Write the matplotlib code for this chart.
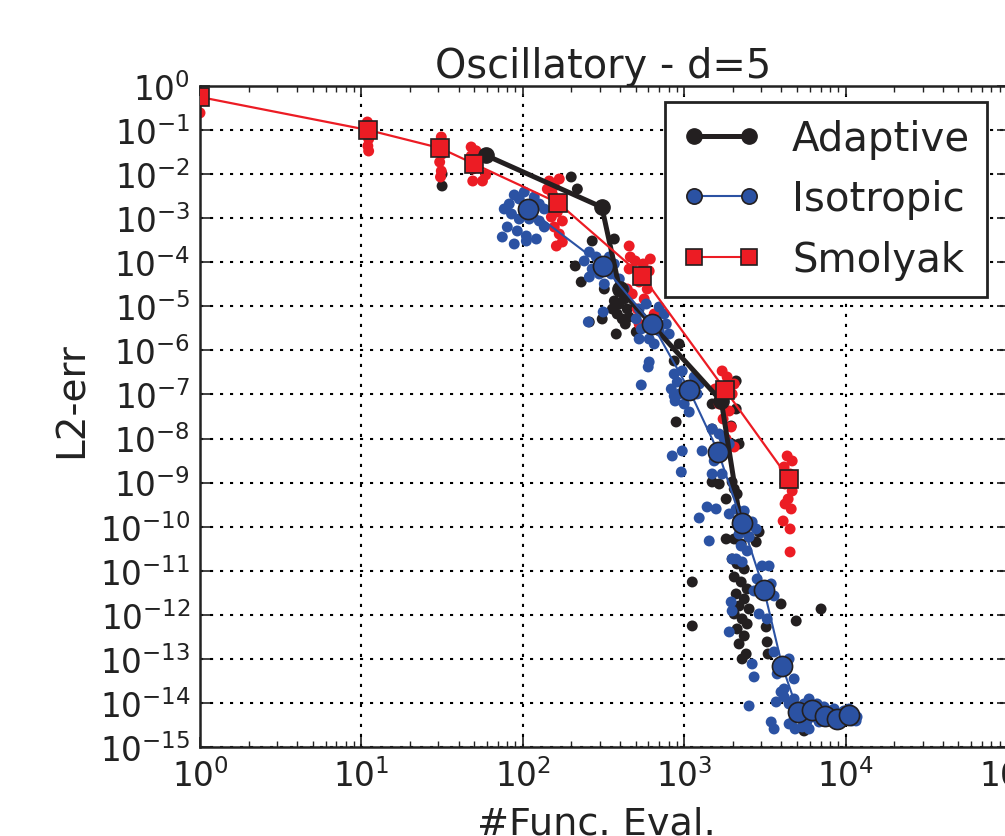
import numpy as np
import matplotlib
matplotlib.use("Agg")
import matplotlib.pyplot as plt
from matplotlib.lines import Line2D
from matplotlib.ticker import LogLocator, NullLocator, LogFormatterMathtext

# ---------------- data (log10 of #evals, log10 of L2 error) ----------------
adaptive_lx = [1.77, 2.49, 2.60, 3.23, 3.347]
adaptive_ly = [-1.57, -2.75, -4.61, -7.15, -9.87]

isotropic_lx = [2.034, 2.498, 2.802, 3.031, 3.211, 3.359, 3.495, 3.607, 3.706, 3.793, 3.873, 3.947, 4.022]
isotropic_ly = [-2.79, -4.08, -5.40, -6.90, -8.305, -9.916, -11.44, -13.16, -14.205, -14.159, -14.295, -14.364, -14.273]

smolyak_lx = [0.0, 1.043, 1.489, 1.70, 2.22, 2.74, 3.254, 3.65]
smolyak_ly = [-0.25, -1.0, -1.41, -1.77, -2.655, -4.31, -6.898, -8.918]

red_pts_lx = [0.0,
              1.037, 1.04, 1.045, 1.04, 1.045, 1.06, 1.03,
              1.495, 1.49, 1.50, 1.485, 1.495, 1.49,
              1.68, 1.68, 1.69, 1.69, 1.75, 1.77, 1.73, 1.71,
              2.164, 2.195, 2.183, 2.226, 2.195, 2.214, 2.245, 2.195, 2.226, 2.245, 2.208, 2.177, 2.152,
              2.659, 2.666, 2.79, 2.659, 2.721, 2.771, 2.678, 2.752, 2.709, 2.814, 2.721, 2.647, 2.783, 2.746, 2.697,
              3.235, 3.266, 3.31, 3.192, 3.297, 3.217, 3.279, 3.241, 3.291, 3.26, 3.31,
              3.638, 3.669, 3.619, 3.656, 3.625, 3.669, 3.644, 3.625, 3.663, 3.613, 3.656, 3.656]
red_pts_ly = [-0.61,
              -0.817, -0.976, -1.203, -1.361, -1.475, -1.09, -0.93,
              -1.157, -1.316, -1.543, -1.725, -1.929, -2.065,
              -1.384, -1.588, -1.883, -2.156, -2.156, -2.02, -1.656, -1.47,
              -2.156, -2.269, -2.45, -2.11, -2.678, -2.859, -3.063, -3.199, -3.359, -3.54, -3.631, -2.972, -2.337,
              -3.631, -3.88, -3.926, -4.152, -4.447, -4.606, -4.72, -4.833, -5.06, -5.174, -5.401, -4.606, -4.198, -4.039, -3.971,
              -6.467, -6.603, -6.762, -6.875, -6.989, -7.216, -7.375, -7.556, -7.738, -8.01, -8.192,
              -8.396, -8.509, -8.645, -8.804, -9.031, -9.19, -9.372, -9.485, -9.598, -9.871, -10.052, -10.574]

black_pts_lx = [1.50, 1.50, 2.30, 2.338,
                2.43, 2.325, 2.362, 2.505, 2.567, 2.579, 2.492, 2.703, 2.412,
                2.567, 2.598, 2.629, 2.647, 2.585, 2.616, 2.659, 2.555, 2.635,
                2.938, 2.95, 2.969,
                3.322, 3.173, 3.291, 3.297, 3.322, 3.34, 3.173,
                3.173, 3.26, 3.297, 3.31, 3.372, 3.464, 3.26, 3.217, 3.328,
                3.31, 3.402, 3.446, 3.353,
                3.297, 3.328, 3.372, 3.31, 3.353, 3.39, 3.322, 3.372, 3.34, 3.402, 3.31, 3.359, 3.39, 3.328,
                3.372, 3.34, 3.384, 3.359, 3.05, 3.05, 3.6, 3.848, 3.694, 3.508, 3.514, 3.52, 3.743]
black_pts_ly = [-1.997, -2.269, -2.065, -2.337,
                -3.517, -4.084, -4.447, -4.606, -3.472, -5.628, -5.287, -5.582, -5.355,
                -4.878, -4.947, -4.833, -5.06, -5.174, -5.287, -5.242, -5.06, -5.401,
                -6.24, -7.624, -5.854,
                -6.694, -7.216, -7.715, -8.124, -7.329, -8.124, -7.783,
                -8.986, -9.372, -8.986, -9.145, -10.052, -10.12, -10.279, -9.031, -9.258,
                -10.279, -10.233, -10.347, -10.392,
                -10.733, -10.846, -10.96, -11.141, -11.255, -11.414, -11.527, -11.641, -11.8, -11.868, -11.981, -12.094, -12.208, -12.321,
                -12.48, -12.661, -12.889, -13.002, -11.255, -12.253, -11.754, -11.868, -12.14, -12.276, -12.616, -12.889, -14.636]

blue_pts_lx = [1.885, 1.916, 1.947, 1.978, 2.009, 2.071, 2.102, 2.133, 1.93, 1.978, 2.04, 2.102, 1.904, 1.966, 2.022, 2.133, 1.947, 2.022, 2.084, 1.873,
               2.412, 2.455, 2.381, 2.536, 2.567, 2.43, 2.474, 2.548, 2.598, 2.412, 2.505, 2.406, 2.498, 2.629,
               2.721, 2.765, 2.845, 2.876, 2.703, 2.734, 2.845, 2.889, 2.783, 2.721, 2.814, 2.907, 2.783, 2.777, 2.734, 2.957, 2.938,
               2.938, 2.988, 3.062, 3.093, 2.92, 2.969, 3.08, 3.0, 3.031, 2.944,
               2.926, 2.988, 2.982, 3.111, 3.173, 3.217, 3.279, 3.248, 3.173, 3.235, 3.142, 3.198, 3.093, 3.155, 3.266, 3.186,
               3.322, 3.372, 3.421, 3.446, 3.34, 3.402, 3.353, 3.39, 3.322, 3.297, 3.359, 3.279,
               3.483, 3.526, 3.433, 3.557, 3.464, 3.514, 3.291, 3.297, 3.279, 3.421, 3.433, 3.402, 3.57, 3.452, 3.539,
               3.557, 3.65, 3.576, 3.681, 3.619, 3.6, 3.619, 3.539, 3.557,
               3.65, 3.681, 3.743, 3.774, 3.824, 3.867, 3.898, 3.929, 3.96, 3.991, 4.022, 4.053, 4.071, 3.681,
               3.712, 3.762, 3.805, 3.836, 3.886, 3.929, 3.972, 4.009, 4.04, 4.065, 3.731, 3.774, 3.65, 3.687]
blue_pts_ly = [-2.791, -2.678, -2.473, -2.564, -2.405, -2.519, -2.678, -2.791, -2.904, -3.018, -3.018, -3.063, -3.199, -3.29, -3.404, -3.199, -3.585, -3.517, -3.472, -3.427,
               -3.767, -3.88, -3.971, -3.88, -4.039, -4.152, -4.266, -4.266, -4.379, -4.334, -4.493, -5.355, -5.128, -4.606,
               -5.06, -4.947, -5.015, -5.174, -5.287, -5.514, -5.559, -5.401, -5.741, -5.741, -5.854, -5.628, -6.263, -6.376, -6.785, -6.717, -7.034,
               -6.535, -6.467, -6.603, -6.762, -6.875, -6.989, -6.989, -7.216, -7.397, -7.148,
               -8.396, -8.282, -8.759, -8.282, -7.783, -7.897, -8.124, -8.01, -8.804, -8.804, -9.553, -9.598, -9.803, -10.324, -8.169, -8.509,
               -9.598, -9.644, -9.893, -10.052, -10.165, -10.233, -10.438, -10.551, -10.733, -10.733, -10.801, -9.712,
               -10.892, -10.892, -11.459, -11.572, -11.981, -12.094, -11.709, -11.913, -12.389, -13.116, -13.41, -14.069, -13.978, -11.187, -11.3,
               -12.843, -13.002, -13.342, -13.455, -13.683, -13.751, -13.864, -14.432, -14.591,
               -14.023, -13.91, -14.023, -13.91, -14.023, -14.091, -14.182, -14.137, -14.25, -14.182, -14.137, -14.25, -14.318, -14.364,
               -14.318, -14.409, -14.318, -14.432, -14.364, -14.432, -14.409, -14.364, -14.409, -14.409, -14.545, -14.591, -14.477, -14.591]

labels = ["Adaptive", "Isotropic", "Smolyak"]
title = "Oscillatory - d=5"
xlabel = "#Func. Eval."
ylabel = "L2-err"

# ---------------- styling ----------------
BLACK = "#231f20"
BLUE = "#2b52a3"
RED = "#ec1c24"
TXT = "#222222"

plt.rcParams["font.family"] = ["DejaVu Sans"]
plt.rcParams["mathtext.default"] = "regular"
plt.rcParams["axes.unicode_minus"] = False

fig = plt.figure(figsize=(10.05, 8.37), dpi=100)
W, H = 1005.0, 837.0
AX_L, AX_R, AX_T, AX_B = 200, 1007, 87, 748
ax = fig.add_axes([AX_L / W, (H - AX_B) / H, (AX_R - AX_L) / W, (AX_B - AX_T) / H])

p = lambda a: np.power(10.0, np.asarray(a))

dot_s = 62
ax.scatter(p(black_pts_lx), p(black_pts_ly), s=dot_s, color=BLACK, edgecolors="none", zorder=2)
ax.scatter(p(red_pts_lx), p(red_pts_ly), s=dot_s, color=RED, edgecolors="none", zorder=2.1)
ax.scatter(p(blue_pts_lx), p(blue_pts_ly), s=dot_s, color=BLUE, edgecolors="none", zorder=2.2)

ax.plot(p(adaptive_lx), p(adaptive_ly), "-o", color=BLACK, lw=3.6, ms=11,
        mfc=BLACK, mec=BLACK, zorder=3)
ax.plot(p(isotropic_lx), p(isotropic_ly), "-o", color=BLUE, lw=1.5, ms=14.5,
        mfc=BLUE, mec=BLACK, mew=1.2, zorder=3.2)
ax.plot(p(smolyak_lx), p(smolyak_ly), "-s", color=RED, lw=1.6, ms=12.5,
        mfc=RED, mec=BLACK, mew=1.2, zorder=3.1)

ax.set_xscale("log")
ax.set_yscale("log")
ax.set_xlim(1, 1e5)
ax.set_ylim(1e-15, 1)

ax.xaxis.set_major_locator(LogLocator(base=10, numticks=10))
ax.xaxis.set_minor_locator(LogLocator(base=10, subs=np.arange(2, 10), numticks=20))
ax.yaxis.set_major_locator(LogLocator(base=10, numticks=20))
ax.yaxis.set_minor_locator(NullLocator())
ax.xaxis.set_major_formatter(LogFormatterMathtext())
ax.yaxis.set_major_formatter(LogFormatterMathtext())

ax.tick_params(which="both", direction="in", top=True, right=True, colors=TXT)
ax.tick_params(which="major", length=7, width=1.2, labelsize=23.5, pad=8)
ax.tick_params(which="minor", length=4, width=1.0)
ax.tick_params(axis="y", which="major", pad=7)

ax.grid(True, which="major", color="black", linestyle=(0, (1.5, 3.3)), linewidth=1.5)
for s in ax.spines.values():
    s.set_linewidth(1.8)
    s.set_color(TXT)

aw, ah = float(AX_R - AX_L), float(AX_B - AX_T)
ax.set_title(title, fontsize=28.7, color=TXT)
ax.set_xlabel(xlabel, fontsize=27.5, color=TXT)
ax.set_ylabel(ylabel, fontsize=28, color=TXT)
ax.xaxis.set_label_coords((596 - AX_L) / aw, (AX_B - 807) / ah)
ax.xaxis.label.set_va("top")
ax.yaxis.set_label_coords((91 - AX_L) / aw, (AX_B - 400) / ah)

handles = [
    Line2D([], [], color=BLACK, lw=3.6, marker="o", ms=11, mfc=BLACK, mec=BLACK),
    Line2D([], [], color=BLUE, lw=1.5, marker="o", ms=11, mfc=BLUE, mec=BLACK, mew=1.2),
    Line2D([], [], color=RED, lw=1.5, marker="s", ms=11, mfc=RED, mec=BLACK, mew=1.2),
]
leg = ax.legend(handles, labels, loc="upper right",
                bbox_to_anchor=((987 - AX_L) / aw, (AX_B - 103) / ah),
                fontsize=29, numpoints=2,
                handlelength=1.95, labelspacing=0.51, borderpad=0.42,
                handletextpad=0.77, fancybox=False, framealpha=1.0,
                borderaxespad=0.0)
leg.get_frame().set_edgecolor(TXT)
leg.get_frame().set_linewidth(2.0)
for t in leg.get_texts():
    t.set_color(TXT)

fig.savefig("out.png", dpi=100)
